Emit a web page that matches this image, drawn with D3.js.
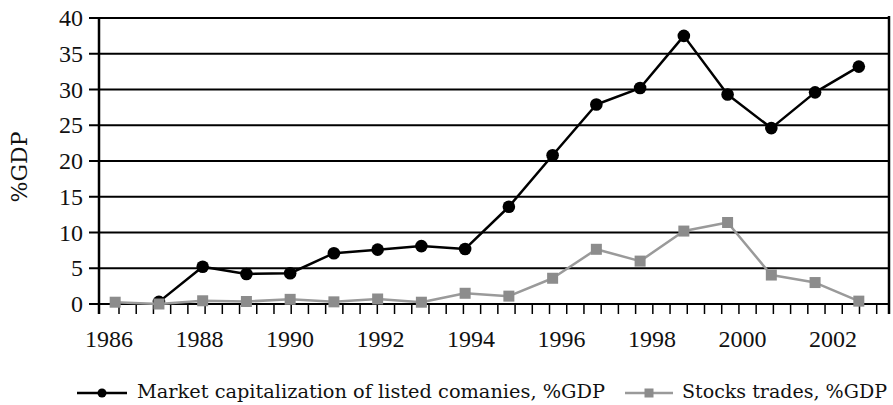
<!DOCTYPE html>
<html lang="en">
<head>
  <meta charset="UTF-8">
  <title>Market capitalization and stocks traded, %GDP</title>
  <style>
    body {
      margin: 0;
      background: #ffffff;
    }
    svg {
      display: block;
    }
    .tick-label {
      font-family: "Liberation Serif", serif;
      font-size: 24px;
      fill: #111;
    }
    .legend-label, .axis-title {
      font-family: "DejaVu Serif", serif;
      fill: #111;
    }
  </style>
</head>
<body>
  <div id="chart"></div>

  <script src="https://d3js.org/d3.v7.min.js"></script>
  <script>
    // yearly observations
    const years = [1986, 1987, 1988, 1989, 1990, 1991, 1992, 1993, 1994,
                   1995, 1996, 1997, 1998, 1999, 2000, 2001, 2002, 2003];
    const marketCap = [null, 0.3, 5.2, 4.2, 4.3, 7.1, 7.6, 8.1, 7.7,
                       13.6, 20.8, 27.9, 30.2, 37.5, 29.3, 24.6, 29.6, 33.2];
    const stocksTraded = [0.25, 0.0, 0.45, 0.35, 0.65, 0.3, 0.7, 0.25, 1.5,
                          1.1, 3.6, 7.65, 6.0, 10.2, 11.4, 4.05, 3.0, 0.4];

    const xTickLabels = [1986, 1988, 1990, 1992, 1994, 1996, 1998, 2000, 2002];
    const yTicks = [0, 5, 10, 15, 20, 25, 30, 35, 40];
    const minorTickCount = 44;

    const seriesNames = [
      "Market capitalization of listed comanies, %GDP",
      "Stocks trades, %GDP"
    ];

    const width = 893;
    const height = 405;
    const plotLeft = 99, plotRight = 889, plotTop = 18, plotBottom = 304;

    const svg = d3.select("#chart")
      .append("svg")
      .attr("width", width)
      .attr("height", height);

    svg.append("rect")
      .attr("width", width)
      .attr("height", height)
      .attr("fill", "#fff");

    const x = d3.scaleLinear().domain([1985.63, 2003.69]).range([plotLeft, plotRight]);
    // the year labels in the original sit on a slightly different spacing
    const xLabel = d3.scaleLinear().domain([1986, 2002]).range([109, 833]);
    const xMinor = d3.scaleLinear().domain([0, minorTickCount]).range([119, 876.7]);
    const y = d3.scaleLinear().domain([0, 40]).range([plotBottom, plotTop]);

    // horizontal grid lines with outward ticks
    svg.append("g")
      .selectAll("line")
      .data(yTicks)
      .enter()
      .append("line")
      .attr("x1", plotLeft - 10)
      .attr("x2", plotRight)
      .attr("y1", (d) => y(d))
      .attr("y2", (d) => y(d))
      .attr("stroke", "#000")
      .attr("stroke-width", 2);

    svg.append("g")
      .selectAll("text")
      .data(yTicks)
      .enter()
      .append("text")
      .attr("class", "tick-label")
      .attr("x", plotLeft - 16)
      .attr("y", (d) => y(d))
      .attr("dy", "0.34em")
      .attr("text-anchor", "end")
      .text((d) => d);

    // minor ticks under the x axis
    svg.append("g")
      .selectAll("line")
      .data(d3.range(minorTickCount + 1))
      .enter()
      .append("line")
      .attr("x1", (d) => xMinor(d))
      .attr("x2", (d) => xMinor(d))
      .attr("y1", plotBottom)
      .attr("y2", plotBottom + 10)
      .attr("stroke", "#000")
      .attr("stroke-width", 1.5);

    svg.append("g")
      .selectAll("text")
      .data(xTickLabels)
      .enter()
      .append("text")
      .attr("class", "tick-label")
      .attr("x", (d) => xLabel(d))
      .attr("y", 347)
      .attr("text-anchor", "middle")
      .text((d) => d);

    // left axis and right frame
    svg.append("line")
      .attr("x1", plotLeft).attr("x2", plotLeft)
      .attr("y1", plotTop - 1).attr("y2", plotBottom + 10)
      .attr("stroke", "#000").attr("stroke-width", 2.5);
    svg.append("line")
      .attr("x1", plotRight).attr("x2", plotRight)
      .attr("y1", plotTop - 2).attr("y2", plotBottom + 10)
      .attr("stroke", "#000").attr("stroke-width", 2.5);

    svg.append("text")
      .attr("class", "axis-title")
      .attr("transform", `translate(27, 167) rotate(-90)`)
      .attr("text-anchor", "middle")
      .style("font-size", "22px")
      .text("%GDP");

    const line = d3.line()
      .defined((d) => d.v != null)
      .x((d) => x(d.year))
      .y((d) => y(d.v));

    const capData = years.map((year, i) => ({ year, v: marketCap[i] }));
    const tradeData = years.map((year, i) => ({ year, v: stocksTraded[i] }));

    svg.append("path")
      .datum(capData)
      .attr("d", line)
      .attr("fill", "none")
      .attr("stroke", "#000")
      .attr("stroke-width", 2.5)
      .attr("stroke-linejoin", "round");

    svg.append("g")
      .selectAll("circle")
      .data(capData.filter((d) => d.v != null))
      .enter()
      .append("circle")
      .attr("cx", (d) => x(d.year))
      .attr("cy", (d) => y(d.v))
      .attr("r", 6.3)
      .attr("fill", "#000");

    svg.append("path")
      .datum(tradeData)
      .attr("d", line)
      .attr("fill", "none")
      .attr("stroke", "#9a9a9a")
      .attr("stroke-width", 2.5)
      .attr("stroke-linejoin", "round");

    svg.append("g")
      .selectAll("rect")
      .data(tradeData)
      .enter()
      .append("rect")
      .attr("x", (d) => x(d.year) - 5.5)
      .attr("y", (d) => y(d.v) - 5.5)
      .attr("width", 11)
      .attr("height", 11)
      .attr("fill", "#8c8c8c");

    // legend
    const legendY = 393;
    const legend = svg.append("g");

    legend.append("line")
      .attr("x1", 77).attr("x2", 127)
      .attr("y1", legendY).attr("y2", legendY)
      .attr("stroke", "#000").attr("stroke-width", 2.5);
    legend.append("circle")
      .attr("cx", 102).attr("cy", legendY).attr("r", 4.5)
      .attr("fill", "#000");
    legend.append("text")
      .attr("class", "legend-label")
      .attr("x", 137)
      .attr("y", legendY + 5)
      .attr("textLength", 468)
      .attr("lengthAdjust", "spacingAndGlyphs")
      .style("font-size", "19px")
      .text(seriesNames[0]);

    const secondX = 625;

    legend.append("line")
      .attr("x1", secondX).attr("x2", secondX + 48)
      .attr("y1", legendY).attr("y2", legendY)
      .attr("stroke", "#9a9a9a").attr("stroke-width", 2.5);
    legend.append("rect")
      .attr("x", secondX + 24 - 4.5).attr("y", legendY - 4.5)
      .attr("width", 9).attr("height", 9)
      .attr("fill", "#8c8c8c");
    legend.append("text")
      .attr("class", "legend-label")
      .attr("x", secondX + 57)
      .attr("y", legendY + 5)
      .attr("textLength", 205)
      .attr("lengthAdjust", "spacingAndGlyphs")
      .style("font-size", "19px")
      .text(seriesNames[1]);
  </script>
</body>
</html>
